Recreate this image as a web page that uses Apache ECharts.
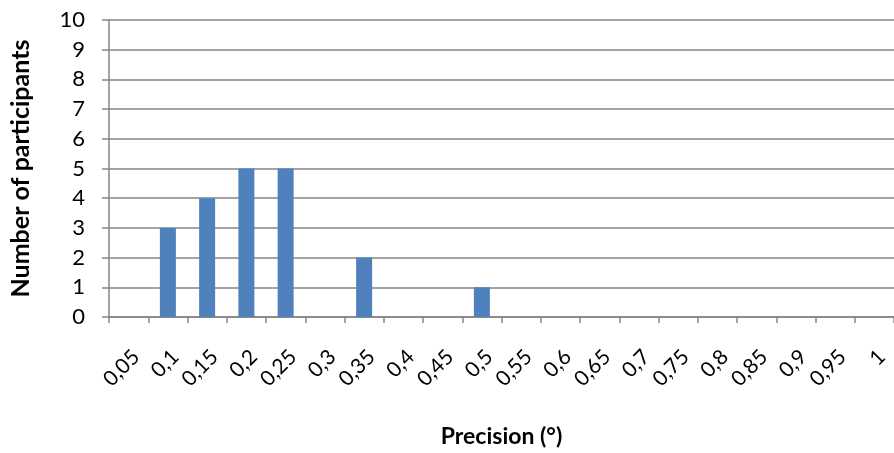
<!DOCTYPE html>
<html><head><meta charset="utf-8">
<script src="https://cdn.jsdelivr.net/npm/echarts@6/dist/echarts.min.js"></script>
<style>html,body{margin:0;padding:0;background:#fff}#c{width:894px;height:453px}</style>
</head><body><div id="c"></div>
<script>
const categories = ['0,05','0,1','0,15','0,2','0,25','0,3','0,35','0,4','0,45','0,5','0,55','0,6','0,65','0,7','0,75','0,8','0,85','0,9','0,95','1'];
const participants = [0,3,4,5,5,0,2,0,0,1,0,0,0,0,0,0,0,0,0,0];
const yTicks = {min:0, max:10, interval:1};
const xTitle = 'Precision (°)';
const yTitle = 'Number of participants';

const font = 'Lato, Calibri, Carlito, sans-serif';
const gray = '#858585';
const chart = echarts.init(document.getElementById('c'));
chart.setOption({
  animation:false,
  grid:{left:108, top:20, bottom:136, width:794},
  xAxis:{
    type:'category', data:categories, boundaryGap:true,
    axisLine:{lineStyle:{color:gray, width:1.5}},
    axisTick:{show:true, length:6, lineStyle:{color:gray, width:1.5}},
    axisLabel:{rotate:45, interval:0, margin:29, verticalAlign:'top', color:'#000', fontSize:21, fontFamily:font},
    name:xTitle, nameLocation:'middle', nameGap:108,
    nameTextStyle:{color:'#000', fontSize:23, fontWeight:'bold', fontFamily:font}
  },
  yAxis:{
    type:'value', min:yTicks.min, max:yTicks.max, interval:yTicks.interval,
    axisLine:{show:true, lineStyle:{color:gray, width:1.5}},
    axisTick:{show:true, length:7, lineStyle:{color:gray, width:1.5}},
    splitLine:{lineStyle:{color:gray, width:1.5}},
    axisLabel:{color:'#000', fontSize:22, margin:24, fontFamily:font},
    name:yTitle, nameLocation:'middle', nameGap:76,
    nameTextStyle:{color:'#000', fontSize:25, fontWeight:'bold', fontFamily:font}
  },
  series:[{type:'bar', data:participants, barWidth:16, itemStyle:{color:'#4F81BD'}}]
});
</script></body></html>
